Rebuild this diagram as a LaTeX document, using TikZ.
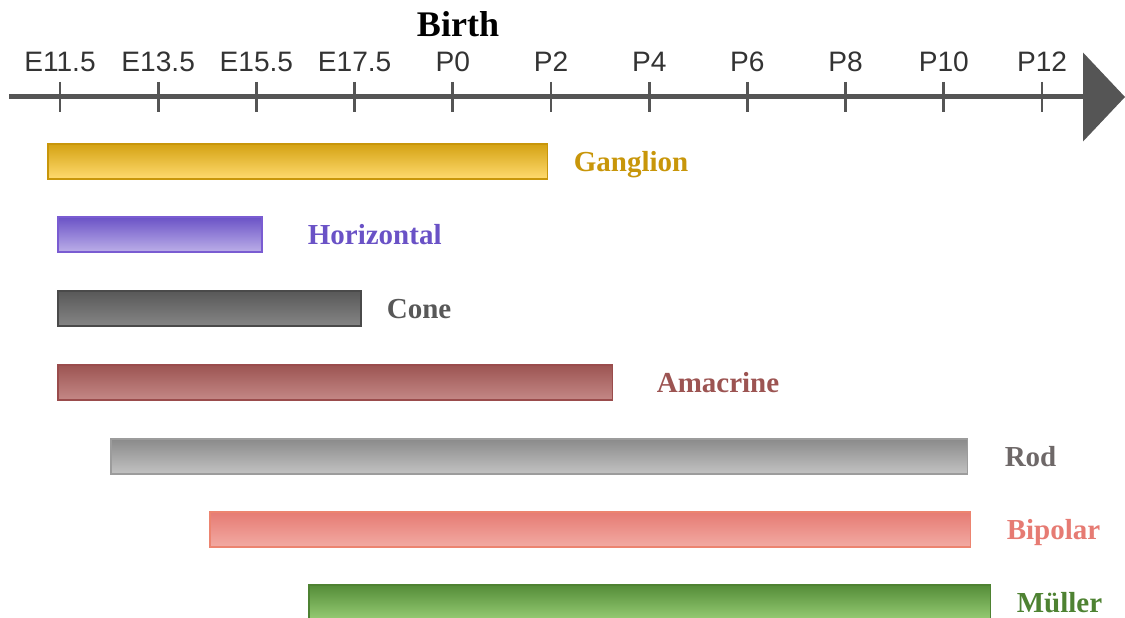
\documentclass[tikz,border=0pt]{standalone}
\usepackage{fontspec}
\setmainfont{Liberation Serif}
\newfontfamily\axisfont{Liberation Sans}
\usepackage{xcolor}
\usepackage{tikz}
\usetikzlibrary{positioning,arrows.meta}

\definecolor{axisgray}{HTML}{555555}
\definecolor{ticktext}{HTML}{333333}
\definecolor{gangdark}{HTML}{D4A213}
\definecolor{ganglight}{HTML}{FFDA6E}
\definecolor{gangline}{HTML}{C8960A}
\definecolor{horzdark}{HTML}{6A52C6}
\definecolor{horzlight}{HTML}{BBAEE8}
\definecolor{horzline}{HTML}{7A5CD2}
\definecolor{conedark}{HTML}{585858}
\definecolor{conelight}{HTML}{858585}
\definecolor{coneline}{HTML}{4A4A4A}
\definecolor{amadark}{HTML}{9C5452}
\definecolor{amalight}{HTML}{C48886}
\definecolor{amaline}{HTML}{9A4C4C}
\definecolor{roddark}{HTML}{8A8A8A}
\definecolor{rodlight}{HTML}{C2C2C2}
\definecolor{rodline}{HTML}{9C9C9C}
\definecolor{rodtext}{HTML}{6E6868}
\definecolor{bipdark}{HTML}{E67B73}
\definecolor{biplight}{HTML}{F2AAA3}
\definecolor{bipline}{HTML}{EC8470}
\definecolor{muldark}{HTML}{548C38}
\definecolor{mullight}{HTML}{96CC74}
\definecolor{mulline}{HTML}{4E8232}

\begin{document}
\begin{tikzpicture}[
    x=0.02cm, y=-0.02cm,
    bar/.style={
        draw,
        rectangle,
        line width=0.9pt,
        anchor=north west,
        minimum height=0.7cm,
        inner sep=0pt
    },
    celltype/.style={
        font=\fontsize{16.5}{18}\selectfont\bfseries,
        text height=11.2pt,
        text depth=0pt,
        inner sep=0pt
    },
    stage/.style={
        font=\axisfont\fontsize{16}{18}\selectfont,
        text=ticktext,
        anchor=base
    }
]
\useasboundingbox (0,0) rectangle (1125,618);

% time axis
\coordinate (axisstart) at (9,97);
\coordinate (axisend) at (1125,97);
\draw[axisgray, line width=0.1cm, -{Triangle[length=0.84cm,width=1.76cm]}]
    (axisstart) -- (axisend);

\foreach \lab [count=\i from 0] in {E11.5,E13.5,E15.5,E17.5,P0,P2,P4,P6,P8,P10,P12} {
    \draw[axisgray, line width=0.055cm] (60+98.2*\i,82) -- (60+98.2*\i,112);
    \node[stage] (stage\i) at (60+98.2*\i,72) {\lab};
}

\node[font=\fontsize{20.5}{22}\selectfont\bfseries, anchor=base] (birth) at (458,37) {Birth};

% cell types
\node[bar, draw=gangline, top color=gangdark, bottom color=ganglight,
    minimum width=10cm] (ganglion) at (47,143) {};
\node[celltype, text=gangline, right=0.5cm of ganglion] (ganglionlbl) {Ganglion};

\node[bar, draw=horzline, top color=horzdark, bottom color=horzlight,
    minimum width=4.08cm] (horizontal) at (57,216) {};
\node[celltype, text=horzdark, right=0.9cm of horizontal] (horizontallbl) {Horizontal};

\node[bar, draw=coneline, top color=conedark, bottom color=conelight,
    minimum width=6.06cm] (cone) at (57,290) {};
\node[celltype, text=conedark, right=0.5cm of cone] (conelbl) {Cone};

\node[bar, draw=amaline, top color=amadark, bottom color=amalight,
    minimum width=11.1cm] (amacrine) at (57,364) {};
\node[celltype, text=amadark, right=0.86cm of amacrine] (amacrinelbl) {Amacrine};

\node[bar, draw=rodline, top color=roddark, bottom color=rodlight,
    minimum width=17.14cm] (rod) at (110,438) {};
\node[celltype, text=rodtext, right=0.72cm of rod] (rodlbl) {Rod};

\node[bar, draw=bipline, top color=bipdark, bottom color=biplight,
    minimum width=15.22cm] (bipolar) at (209,511) {};
\node[celltype, text=bipdark, right=0.7cm of bipolar] (bipolarlbl) {Bipolar};

\node[bar, draw=mulline, top color=muldark, bottom color=mullight,
    minimum width=13.64cm] (muller) at (308,584) {};
\node[celltype, text=mulline, right=0.5cm of muller] (mullerlbl) {Müller};

\end{tikzpicture}
\end{document}
